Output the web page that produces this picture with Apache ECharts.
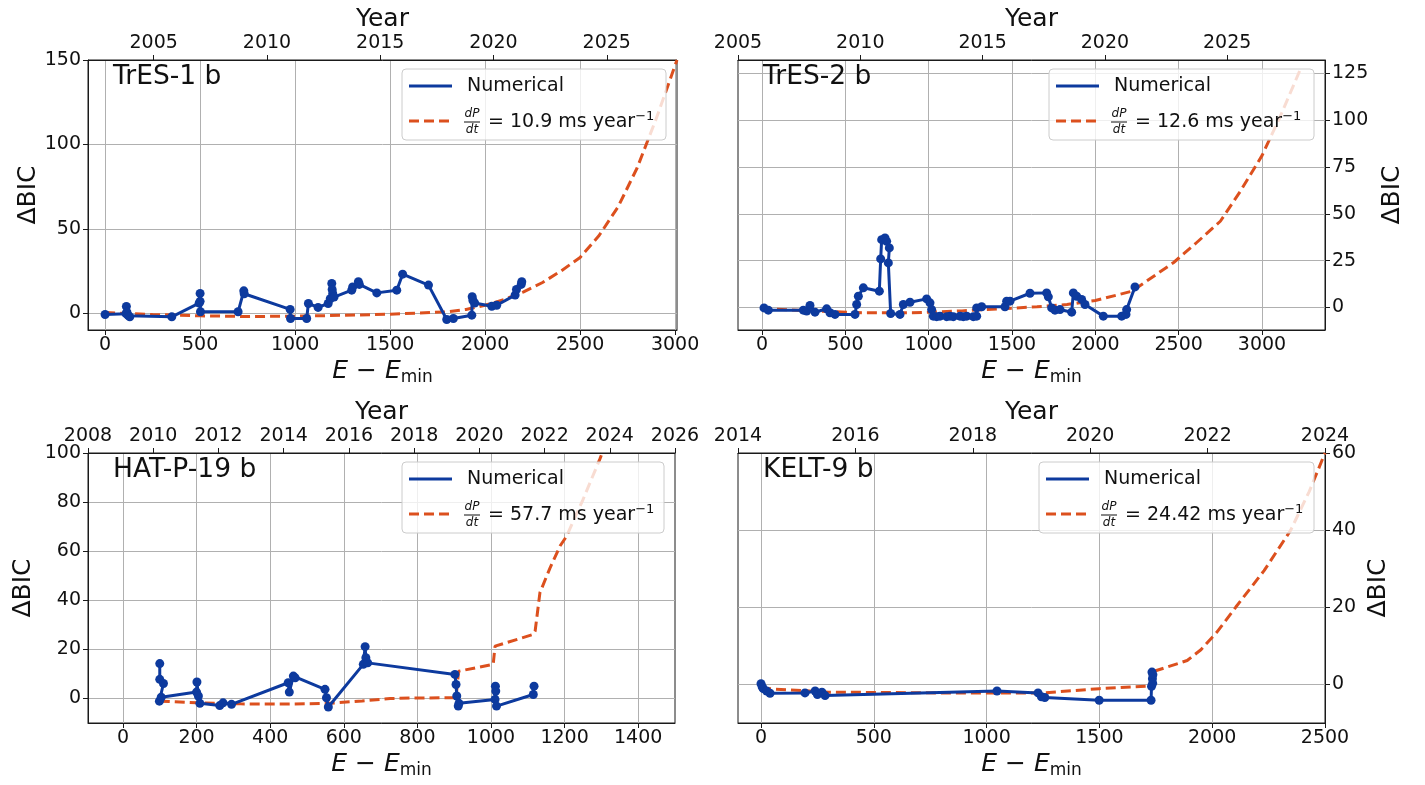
<!DOCTYPE html>
<html><head><meta charset="utf-8">
<script src="https://cdn.jsdelivr.net/npm/echarts@6/dist/echarts.min.js"></script>
<style>html,body{margin:0;padding:0;background:#fff}#c{width:1425px;height:785px}</style>
</head><body><div id="c"></div>
<script>
// ---------- DATA ----------
// TrES-1 b
const tres1NumE = [0,110,112,115,122,130,351,495,500,500,502,700,730,732,974,976,1061,1070,1121,1174,1185,1193,1195,1198,1205,1298,1303,1333,1338,1430,1535,1566,1702,1798,1833,1930,1932,1936,1945,2035,2061,2158,2165,2190,2193];
const tres1NumBIC = [-0.8,-0.3,4,0.5,-1.5,-2.2,-2.2,5.9,11.7,7,0.8,0.8,13.2,11.5,2.2,-3.2,-3.2,5.7,3.4,5.7,8.5,17.6,14,11.7,9.5,13.6,15.5,18.6,17,12,13.6,23.1,16.6,-3.8,-3.2,-1.2,9.7,7.5,6,4.1,4.7,10.7,14,17,18.6];
const tres1ModE = [0,250,500,750,1000,1250,1500,1650,1800,1900,2000,2100,2200,2300,2400,2500,2600,2700,2800,2900,3010];
const tres1ModBIC = [0.3,-0.8,-1.6,-2,-1.8,-1.3,-0.6,0,0.8,2.2,4.7,8,12.5,18,25,33,46,63,86,115,150];
// TrES-2 b
const tres2NumE = [12,38,248,268,288,318,388,408,438,558,568,578,608,704,712,718,738,748,764,758,772,828,848,888,988,1008,1018,1028,1048,1068,1108,1128,1148,1188,1208,1228,1268,1288,1288,1318,1458,1468,1488,1608,1708,1718,1738,1758,1788,1858,1868,1888,1918,1938,2048,2158,2184,2188,2238];
const tres2NumBIC = [-0.2,-1.4,-1.4,-1.9,1.1,-2.5,-0.7,-2.8,-3.7,-3.7,1.6,6,10.5,8.7,25.9,36.2,37.1,35.3,31.8,23.8,-3.2,-3.7,1.6,2.8,4.6,2.5,-1.1,-4.6,-4.9,-4.6,-4.9,-4.6,-4.9,-4.6,-4.9,-4.6,-4.9,-4.6,-0.2,0.4,0.4,3.4,3.4,7.6,7.8,5.7,-0.2,-1.4,-1.1,-2.5,7.8,6,4.3,1.6,-4.6,-4.6,-3.7,-1.1,11];
const tres2ModE = [0,300,600,900,1200,1430,1650,1830,2000,2220,2470,2600,2750,2870,3000,3110,3230];
const tres2ModBIC = [-0.5,-1.8,-2.8,-2.8,-1.8,-0.7,0.4,1.6,3.7,8.7,24,34,46,62,81,102,127];
// HAT-P-19 b
const hatNumE = [100,100,110,99,104,200,201,205,209,263,272,295,449,452,463,468,549,553,558,653,658,660,665,902,905,907,911,913,1011,1012,1013,1015,1115,1117];
const hatNumBIC = [14.2,7.8,6.1,-1.1,0.5,2.6,6.7,1,-2,-2.9,-1.8,-2.4,6.4,2.6,9.1,8.4,3.7,0.3,-3.5,13.9,21.1,16.6,14.5,9.8,5.7,1,-3.1,-2,-0.4,5,3,-3.1,1.6,5];
const hatModE = [100,200,320,450,560,650,726,800,905,912,1006,1011,1115,1120,1133,1160,1188,1205,1250,1296,1312];
const hatModBIC = [-1.1,-1.8,-2.2,-2.3,-2,-1,0,0.2,0.3,11.1,13.9,21.3,26.1,27.5,43.1,53,62.2,66,81,97.6,104];
// KELT-9 b
const keltNumE = [0,5,10,25,40,195,240,250,270,284,1046,1228,1243,1258,1499,1729,1731,1733,1735,1737,1736];
const keltNumBIC = [0.2,-0.6,-1.1,-1.7,-2.3,-2.2,-1.7,-2.6,-2.0,-2.9,-1.7,-2.2,-3.2,-3.4,-4.1,-4.1,-0.5,3.2,1.5,2.5,0.3];
const keltModE = [0,300,800,1250,1500,1726,1741,1800,1889,1950,2020,2104,2230,2348,2430,2500];
const keltModBIC = [-1,-2,-2.2,-2.2,-1.1,-0.4,3.4,4.5,6.2,9,13.5,20,29.5,40,50,60];

// tick labels
const tres1ETicks = [0,500,1000,1500,2000,2500,3000];
const tres1YearTicks = [2005,2010,2015,2020,2025];
const tres1BICTicks = [0,50,100,150];
const tres2ETicks = [0,500,1000,1500,2000,2500,3000];
const tres2YearTicks = [2005,2010,2015,2020,2025];
const tres2BICTicks = [0,25,50,75,100,125];
const hatETicks = [0,200,400,600,800,1000,1200,1400];
const hatYearTicks = [2008,2010,2012,2014,2016,2018,2020,2022,2024,2026];
const hatBICTicks = [0,20,40,60,80,100];
const keltETicks = [0,500,1000,1500,2000,2500];
const keltYearTicks = [2014,2016,2018,2020,2022,2024];
const keltBICTicks = [0,20,40,60];

const planetNames = ['TrES-1 b','TrES-2 b','HAT-P-19 b','KELT-9 b'];
const rateLabels = ['10.9','12.6','57.7','24.42'];

// ---------- LAYOUT ----------
const FONT = '"DejaVu Sans", sans-serif';
const BLUE = '#0d3a9e';
const RED = '#dc501e';
const INK = '#111111';
const panels = [
  {grid:{left:88,top:60,width:589,height:270}, side:'left', yGap:46,
   E:[-90,3010], year:[2002.1,2028.1], bic:[-10,150], legendW:264,
   num:[tres1NumE,tres1NumBIC], mod:[tres1ModE,tres1ModBIC], ticks:[tres1ETicks,tres1YearTicks,tres1BICTicks]},
  {grid:{left:738,top:60,width:587,height:270}, side:'right', yGap:55,
   E:[-144,3378], year:[2005,2029], bic:[-12,132], legendW:265,
   num:[tres2NumE,tres2NumBIC], mod:[tres2ModE,tres2ModBIC], ticks:[tres2ETicks,tres2YearTicks,tres2BICTicks]},
  {grid:{left:88,top:453,width:587,height:270}, side:'left', yGap:52,
   E:[-95,1500], year:[2008,2026], bic:[-10,100], legendW:262,
   num:[hatNumE,hatNumBIC], mod:[hatModE,hatModBIC], ticks:[hatETicks,hatYearTicks,hatBICTicks]},
  {grid:{left:738,top:453,width:587,height:270}, side:'right', yGap:41,
   E:[-102,2500], year:[2014,2024], bic:[-10,60], legendW:275,
   num:[keltNumE,keltNumBIC], mod:[keltModE,keltModBIC], ticks:[keltETicks,keltYearTicks,keltBICTicks]}
];

const zip = (a,b) => a.map((x,i)=>[x,b[i]]);
const lbl = (vals, margin) => ({customValues: vals, formatter: v => String(v), margin: margin, fontSize: 19, fontFamily: FONT, color: INK, showMinLabel: true, showMaxLabel: true});
const tick = vals => ({show:true, customValues: vals, length:5, lineStyle:{color:'#1a1a1a', width:1}});
const axLine = {show:true, onZero:false, lineStyle:{color:'#1a1a1a', width:1}};
const gridLine = {show:true, lineStyle:{color:'#b0b0b0', width:1}};

const grids=[], xAxes=[], yAxes=[], series=[], titles=[], graphics=[];
panels.forEach((p,i)=>{
  const g = p.grid;
  grids.push({left:g.left, top:g.top, width:g.width, height:g.height, show:true, borderColor:'#1a1a1a', borderWidth:1, backgroundColor:'rgba(0,0,0,0)', containLabel:false, outerBoundsMode:'none'});
  xAxes.push({type:'value', gridIndex:i, position:'bottom', min:p.E[0], max:p.E[1],
    axisLine:axLine, axisTick:tick(p.ticks[0]), axisLabel:lbl(p.ticks[0],6), splitLine:gridLine,
    name:'{i|E} − {i|E}{s|min}', nameLocation:'middle', nameGap:26,
    nameTextStyle:{fontSize:25, fontFamily:FONT, color:INK, lineHeight:30,
      rich:{i:{fontStyle:'italic', fontSize:25, fontFamily:FONT, color:INK, lineHeight:30},
            s:{fontSize:17, fontFamily:FONT, color:INK, verticalAlign:'bottom', lineHeight:14}}}});
  xAxes.push({type:'value', gridIndex:i, position:'top', min:p.year[0], max:p.year[1],
    axisLine:axLine, axisTick:tick(p.ticks[1]), axisLabel:lbl(p.ticks[1],7), splitLine:{show:false},
    name:'Year', nameLocation:'middle', nameGap:28,
    nameTextStyle:{fontSize:25, fontFamily:FONT, color:INK}});
  yAxes.push({type:'value', gridIndex:i, position:p.side, min:p.bic[0], max:p.bic[1],
    axisLine:axLine, axisTick:tick(p.ticks[2]), axisLabel:lbl(p.ticks[2],7), splitLine:gridLine,
    name:'ΔBIC', nameLocation:'middle', nameGap:p.yGap, nameRotate:90,
    nameTextStyle:{fontSize:25, fontFamily:FONT, color:INK}});
  series.push({type:'line', name:'model'+i, xAxisIndex:2*i, yAxisIndex:i, data:zip(p.mod[0],p.mod[1]),
    showSymbol:false, symbol:'none', lineStyle:{color:RED, width:3, type:[10,5]}, z:2, clip:true, silent:true});
  series.push({type:'line', name:'num'+i, xAxisIndex:2*i, yAxisIndex:i, data:zip(p.num[0],p.num[1]),
    symbol:'circle', symbolSize:9, showSymbol:true, itemStyle:{color:BLUE, borderWidth:0},
    lineStyle:{color:BLUE, width:3}, z:3, clip:true, silent:true});
  titles.push({text:planetNames[i], left:g.left+25, top:g.top+4, padding:0,
    textStyle:{fontSize:26.5, fontWeight:'normal', fontFamily:FONT, color:INK}});
  // legend box
  const R = g.left + g.width - 11, W = p.legendW, L = R - W, T = g.top + 9;
  graphics.push(
    {type:'rect', z:100, shape:{x:L, y:T, width:W, height:71, r:4}, style:{fill:'rgba(255,255,255,0.8)', stroke:'#cccccc', lineWidth:1}},
    {type:'line', z:101, shape:{x1:L+7, y1:T+17, x2:L+50, y2:T+17}, style:{stroke:BLUE, lineWidth:3}},
    {type:'text', z:101, x:L+65, y:T+17, style:{text:'Numerical', fontSize:19, fontFamily:FONT, fill:INK, verticalAlign:'middle', align:'left'}},
    {type:'line', z:101, shape:{x1:L+7, y1:T+52, x2:L+50, y2:T+52}, style:{stroke:RED, lineWidth:3, lineDash:[10,5]}},
    {type:'text', z:101, x:L+70, y:T+45, style:{text:'dP', fontSize:12, fontStyle:'italic', fontFamily:FONT, fill:INK, align:'center', verticalAlign:'middle'}},
    {type:'line', z:101, shape:{x1:L+62, y1:T+53, x2:L+78, y2:T+53}, style:{stroke:INK, lineWidth:1}},
    {type:'text', z:101, x:L+70, y:T+61, style:{text:'dt', fontSize:12, fontStyle:'italic', fontFamily:FONT, fill:INK, align:'center', verticalAlign:'middle'}},
    {type:'text', z:101, x:L+86, y:T+53, style:{text:'= '+rateLabels[i]+' ms year{sup|−1}', fontSize:19, fontFamily:FONT, fill:INK, verticalAlign:'middle', align:'left', lineHeight:24,
      rich:{sup:{fontSize:13, fontFamily:FONT, fill:INK, verticalAlign:'top', lineHeight:18}}}}
  );
});

const chart = echarts.init(document.getElementById('c'), null, {renderer:'canvas'});
chart.setOption({
  animation:false,
  backgroundColor:'#ffffff',
  textStyle:{fontFamily:FONT},
  title:titles,
  grid:grids,
  xAxis:xAxes,
  yAxis:yAxes,
  series:series,
  graphic:graphics
});
</script></body></html>
